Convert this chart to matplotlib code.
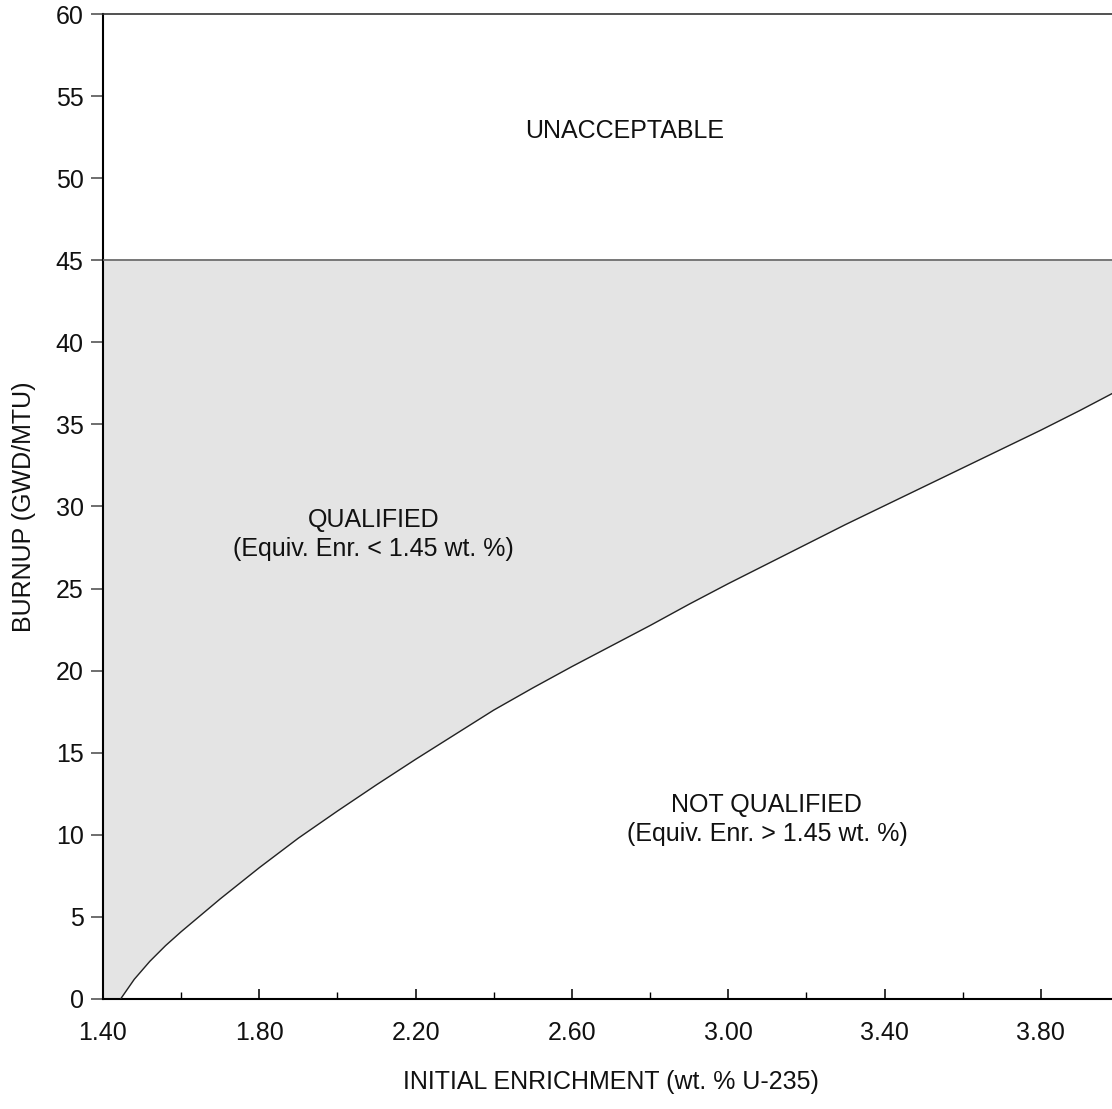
import matplotlib
matplotlib.use("Agg")
import matplotlib.pyplot as plt
from matplotlib.ticker import FixedLocator, FormatStrFormatter

plt.rcParams["font.family"] = ["Liberation Sans", "DejaVu Sans"]

# boundary curve (enrichment wt.% vs burnup GWD/MTU)
enrichment = [1.445, 1.48, 1.52, 1.56, 1.60, 1.70, 1.80, 1.90, 2.00, 2.10,
              2.20, 2.30, 2.40, 2.50, 2.60, 2.70, 2.80, 2.90, 3.00, 3.10,
              3.20, 3.30, 3.40, 3.50, 3.60, 3.70, 3.80, 3.90, 4.00]
burnup = [0.0, 1.2, 2.3, 3.25, 4.1, 6.1, 8.0, 9.8, 11.45, 13.05,
          14.6, 16.1, 17.6, 18.95, 20.25, 21.5, 22.75, 24.05, 25.3, 26.5,
          27.7, 28.9, 30.05, 31.2, 32.35, 33.5, 34.65, 35.85, 37.1]

burnup_limit = 45
x_min, x_max = 1.40, 4.00
y_min, y_max = 0, 60
x_major = [1.40, 1.80, 2.20, 2.60, 3.00, 3.40, 3.80]
x_minor = [1.60, 2.00, 2.40, 2.80, 3.20, 3.60]
y_major = [0, 5, 10, 15, 20, 25, 30, 35, 40, 45, 50, 55, 60]

FILL = "#e4e4e4"
TEXT = "#111111"

fig = plt.figure(figsize=(11.12, 11.09), dpi=100)
ax = fig.add_axes([103 / 1112, 110 / 1109, 1016 / 1112, 985 / 1109])

# shaded qualified zone: from the curve (or the axis floor left of it) up to 45
fx = [x_min] + enrichment
fy = [y_min] + burnup
ax.fill_between(fx, fy, burnup_limit, color=FILL, linewidth=0, zorder=1)
ax.plot(enrichment, burnup, color="#222222", linewidth=1.0, zorder=3)
ax.axhline(burnup_limit, color="#606060", linewidth=1.2, zorder=3)

ax.set_xlim(x_min, x_max)
ax.set_ylim(y_min, y_max)

ax.xaxis.set_major_locator(FixedLocator(x_major))
ax.xaxis.set_minor_locator(FixedLocator(x_minor))
ax.xaxis.set_major_formatter(FormatStrFormatter("%.2f"))
ax.yaxis.set_major_locator(FixedLocator(y_major))

ax.tick_params(axis="x", which="major", direction="in", length=7, width=1.2,
               pad=16, labelsize=18, colors=TEXT)
ax.tick_params(axis="x", which="minor", direction="in", length=5, width=1.0)
ax.tick_params(axis="y", which="major", direction="out", length=9, width=1.2,
               pad=5, labelsize=18, colors=TEXT)
ax.tick_params(axis="y", color="#555555")

ax.spines["right"].set_visible(False)
ax.spines["left"].set_linewidth(1.5)
ax.spines["bottom"].set_linewidth(1.5)
ax.spines["top"].set_linewidth(1.2)
ax.spines["top"].set_color("#333333")

ax.set_xlabel("INITIAL ENRICHMENT (wt. % U-235)", fontsize=18, color=TEXT,
              labelpad=18)
ax.set_ylabel("BURNUP (GWD/MTU)", fontsize=18, color=TEXT, labelpad=14)

ax.text(2.736, 52.9, "UNACCEPTABLE", ha="center", va="center",
        fontsize=18, color=TEXT)
ax.text(2.093, 28.3, "QUALIFIED\n(Equiv. Enr. < 1.45 wt. %)", ha="center",
        va="center", fontsize=18, color=TEXT, linespacing=1.25)
ax.text(3.099, 10.95, "NOT QUALIFIED\n(Equiv. Enr. > 1.45 wt. %)", ha="center",
        va="center", fontsize=18, color=TEXT, linespacing=1.25)

fig.savefig("out.png", dpi=100)
